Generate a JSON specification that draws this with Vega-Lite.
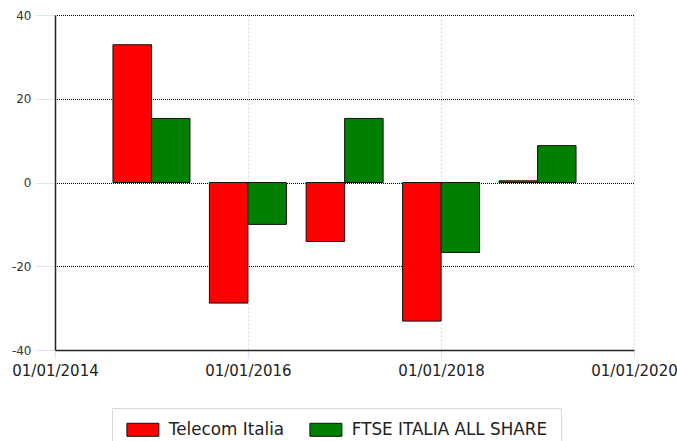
{
  "$schema": "https://vega.github.io/schema/vega-lite/v6.json",
  "autosize": {"type": "none"},
  "padding": {"left": 55, "top": 15, "right": 43, "bottom": 91},
  "width": 579,
  "height": 335,
  "background": "white",
  "config": {"view": {"stroke": null}},
  "data": {
    "values": [
      {"date": "2015-01-01", "series": "Telecom Italia", "value": 32.9},
      {"date": "2016-01-01", "series": "Telecom Italia", "value": -28.8},
      {"date": "2017-01-01", "series": "Telecom Italia", "value": -14.1},
      {"date": "2018-01-01", "series": "Telecom Italia", "value": -33.1},
      {"date": "2019-01-01", "series": "Telecom Italia", "value": 0.4},
      {"date": "2015-01-01", "series": "FTSE ITALIA ALL SHARE", "value": 15.3},
      {"date": "2016-01-01", "series": "FTSE ITALIA ALL SHARE", "value": -10.0},
      {"date": "2017-01-01", "series": "FTSE ITALIA ALL SHARE", "value": 15.3},
      {"date": "2018-01-01", "series": "FTSE ITALIA ALL SHARE", "value": -16.7},
      {"date": "2019-01-01", "series": "FTSE ITALIA ALL SHARE", "value": 8.8}
    ]
  },
  "encoding": {
    "x": {
      "field": "date",
      "type": "temporal",
      "scale": {
        "type": "utc",
        "padding": 0,
        "domain": [
          {"year": 2014, "month": 1, "date": 1, "utc": true},
          {"year": 2020, "month": 1, "date": 1, "utc": true}
        ]
      },
      "axis": {
        "title": null,
        "values": [
          {"year": 2014, "month": 1, "date": 1, "utc": true},
          {"year": 2016, "month": 1, "date": 1, "utc": true},
          {"year": 2018, "month": 1, "date": 1, "utc": true},
          {"year": 2020, "month": 1, "date": 1, "utc": true}
        ],
        "labelExpr": "utcFormat(datum.value, '%d/%m/%Y')",
        "labelFont": "DejaVu Sans",
        "labelFontSize": 15,
        "labelColor": "#222",
        "labelFlush": false,
        "labelOverlap": false,
        "labelPadding": 5,
        "tickSize": 8,
        "tickColor": "#d4e6f7",
        "domainColor": "#222",
        "domainWidth": 1.5,
        "grid": true,
        "gridColor": "#c8dcf0",
        "gridDash": [2, 2],
        "zindex": 0
      }
    },
    "y": {
      "field": "value",
      "type": "quantitative",
      "scale": {"domain": [-40, 40], "nice": false, "zero": false},
      "axis": {
        "title": null,
        "values": [-40, -20, 0, 20, 40],
        "labelExpr": "toString(datum.value)",
        "labelFont": "DejaVu Sans",
        "labelFontSize": 12,
        "labelColor": "#333",
        "labelPadding": 4,
        "tickSize": 20,
        "tickColor": "#d4e6f7",
        "domainColor": "#222",
        "domainWidth": 1.5,
        "grid": true,
        "gridColor": "#000",
        "gridDash": [1, 1],
        "gridDashOffset": 0.5,
        "zindex": 0
      }
    },
    "color": {
      "field": "series",
      "type": "nominal",
      "scale": {
        "domain": ["Telecom Italia", "FTSE ITALIA ALL SHARE"],
        "range": ["#ff0000", "#008000"]
      },
      "legend": {
        "title": null,
        "orient": "none",
        "direction": "horizontal",
        "legendX": 57,
        "legendY": 393,
        "padding": 13,
        "fillColor": "white",
        "strokeColor": "#d9d9d9",
        "labelFont": "DejaVu Sans",
        "labelFontSize": 16.8,
        "labelColor": "#222",
        "labelLimit": 400,
        "symbolType": "M-1,-1H3.923V1H-1Z",
        "symbolSize": 169,
        "symbolStrokeColor": "#111",
        "symbolStrokeWidth": 1,
        "symbolOpacity": 1,
        "labelOffset": 27,
        "columnPadding": 22
      }
    }
  },
  "layer": [
    {
      "transform": [{"filter": "datum.series === 'Telecom Italia'"}],
      "mark": {"type": "bar", "size": 38.5, "xOffset": -19.25, "stroke": "#111", "strokeWidth": 1, "opacity": 1}
    },
    {
      "transform": [{"filter": "datum.series === 'FTSE ITALIA ALL SHARE'"}],
      "mark": {"type": "bar", "size": 38.5, "xOffset": 19.25, "stroke": "#111", "strokeWidth": 1, "opacity": 1}
    }
  ]
}
